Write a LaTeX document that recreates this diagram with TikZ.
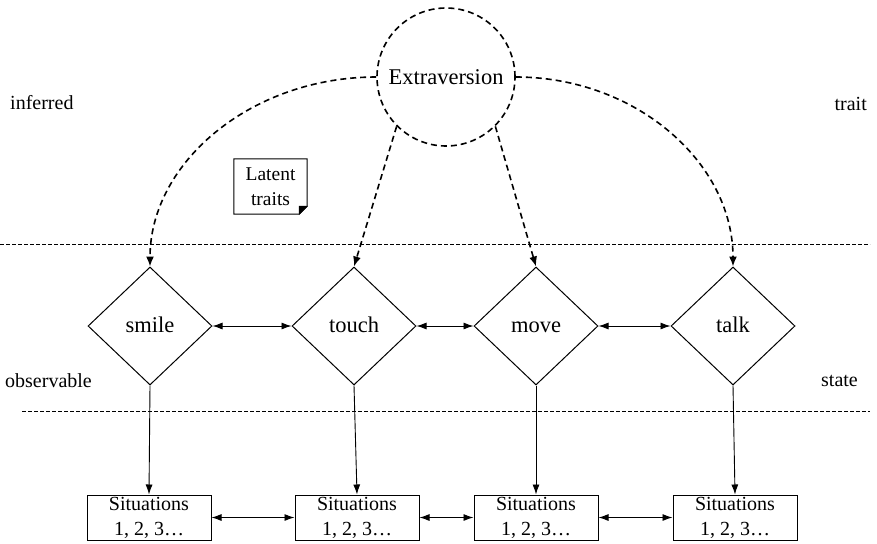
\documentclass[tikz,border=0pt]{standalone}
\usepackage{fontspec}
\setmainfont{Liberation Serif}
\usetikzlibrary{shapes.geometric,arrows.meta}
\tikzset{
  dia/.style={diamond,draw,line width=1pt,minimum width=124pt,minimum height=118pt,inner sep=0pt,text height=12pt,text depth=0pt,font=\fontsize{22.5}{24}\selectfont},
  sitbox/.style={rectangle,draw,line width=1pt,minimum width=124pt,minimum height=45pt,inner sep=0pt,align=center,font=\fontsize{20}{25}\selectfont},
  lab/.style={font=\fontsize{20}{22}\selectfont,inner sep=0pt},
  traitarrow/.style={line width=1.6pt,dash pattern=on 6pt off 4pt,-{Latex[length=10pt,width=8pt]}},
  solidarrow/.style={line width=0.9pt,-{Latex[length=10pt,width=7pt]}},
  bothway/.style={line width=0.9pt,{Latex[length=10pt,width=7pt]}-{Latex[length=10pt,width=7pt]}},
  sepline/.style={line width=0.8pt,dash pattern=on 4pt off 2pt},
}
\begin{document}
\begin{tikzpicture}[x=1pt,y=-1pt]
\useasboundingbox (0,0) rectangle (877,543);
% trait circle
\node[circle,draw,line width=1.6pt,dash pattern=on 6pt off 4pt,minimum size=138pt,inner sep=0pt,font=\fontsize{22.5}{24}\selectfont] (ext) at (446,77) {Extraversion};
% side labels
\node[lab,anchor=west] (inf) at (10,103) {inferred};
\node[lab,anchor=east] (trt) at (867,104) {trait};
\node[lab,anchor=west] (obs) at (5,381) {observable};
\node[lab,anchor=east] (stt) at (858,381) {state};
% separators
\coordinate (s1a) at (0,244); \coordinate (s1b) at (870,244);
\coordinate (s2a) at (22,411); \coordinate (s2b) at (870,411);
\draw[sepline] (s1a) -- (s1b);
\draw[sepline] (s2a) -- (s2b);
% diamonds
\node[dia] (smile) at (150,326) {smile};
\node[dia] (touch) at (354,326) {touch};
\node[dia] (move) at (536,326) {move};
\node[dia] (talk) at (733,326) {talk};
% situation boxes
\node[sitbox] (b1) at (149,517.5) {Situations\\1, 2, 3…};
\node[sitbox] (b2) at (357,517.5) {Situations\\1, 2, 3…};
\node[sitbox] (b3) at (536,517.5) {Situations\\1, 2, 3…};
\node[sitbox] (b4) at (735,517.5) {Situations\\1, 2, 3…};
% latent note
\node[font=\fontsize{19.5}{25}\selectfont,align=center,minimum width=73pt,minimum height=55pt,inner sep=0pt] (note) at (270.5,186.5) {Latent\\traits};
\draw[line width=1pt] (note.north west) -- (note.north east) -- ([yshift=8pt]note.south east) -- ([xshift=-8pt]note.south east) -- (note.south west) -- cycle;
\fill[line width=0.6pt,draw] ([yshift=8pt]note.south east) -- ([xshift=-8pt]note.south east) -- ([xshift=-8pt,yshift=8pt]note.south east) -- cycle;
% trait arrows
\draw[traitarrow] (ext.west) .. controls +(-125,0) and +(0,-104) .. (smile.north);
\draw[traitarrow] (ext.east) .. controls +(120,0) and +(0,-104) .. (talk.north);
\draw[traitarrow] (ext.-135) -- (touch.north);
\draw[traitarrow] (ext.-45) -- (move.north);
% diamond links
\draw[bothway] (smile.east) -- (touch.west);
\draw[bothway] (touch.east) -- (move.west);
\draw[bothway] (move.east) -- (talk.west);
% down arrows
\draw[solidarrow] (smile.south) -- (b1.north);
\draw[solidarrow] (touch.south) -- (b2.north);
\draw[solidarrow] (move.south) -- (b3.north);
\draw[solidarrow] (talk.south) -- (b4.north);
% box links
\draw[bothway] (b1.east) -- (b2.west);
\draw[bothway] (b2.east) -- (b3.west);
\draw[bothway] (b3.east) -- (b4.west);
\end{tikzpicture}
\end{document}
